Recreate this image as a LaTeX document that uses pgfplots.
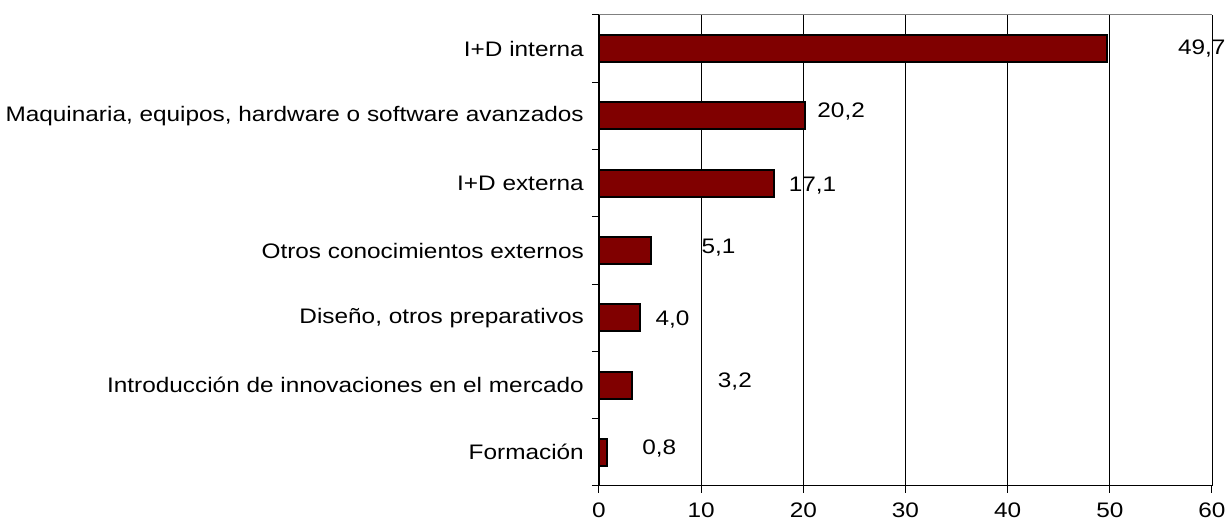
\documentclass[border=0pt]{standalone}
\usepackage{pgfplots}
\pgfplotsset{compat=1.18}
\usepackage{fontspec}
\setmainfont{Liberation Sans}[FakeStretch=1.16]
\definecolor{barred}{RGB}{128,0,0}
\begin{document}
\fontsize{21}{25}\selectfont
\begin{tikzpicture}
\begin{axis}[
  name=ax,
  scale only axis, width=613pt, height=471pt,
  xmin=0, xmax=60, ymin=-0.5, ymax=6.5,
  axis x line*=bottom, axis y line*=left,
  axis line style={-, black, line width=1pt},
  xtick={0,10,...,60},
  ytick={0,...,6},
  yticklabels={Formación, Introducción de innovaciones en el mercado, {Diseño, otros preparativos}, Otros conocimientos externos, I+D externa, {Maquinaria, equipos, hardware o software avanzados}, I+D interna},
  minor ytick={-0.5,0.5,1.5,2.5,3.5,4.5,5.5,6.5},
  major y tick style={draw=none},
  minor y tick style={black, line width=1pt},
  major x tick style={black, line width=1pt},
  tick align=outside,
  major tick length=7pt, minor tick length=7pt,
  xmajorgrids, major grid style={black, line width=0.8pt},
  /pgf/number format/assume math mode=true,
  tick label style={font=\fontsize{21}{25}\selectfont},
  xticklabel style={yshift=-3pt},
  yticklabel style={xshift=-1pt},
  clip=false,
]
\addplot[xbar, bar width=27pt, fill=barred, draw=black, line width=2pt] coordinates {
 (0.8,0) (3.2,1) (4.0,2) (5.1,3) (17.1,4) (20.2,5) (49.7,6)
};
\addplot[only marks, mark=none, nodes near coords, point meta=explicit symbolic,
  nodes near coords style={anchor=center, font=\fontsize{21}{25}\selectfont, text=black}]
  table[meta=l] {
x y l
5.9 0.05 0,8
13.3 1.05 3,2
7.2 1.97 4,0
11.7 3.04 5,1
20.9 3.97 17,1
23.7 5.06 20,2
59.0 6.0 49,7
};
\draw[gray, line width=1pt] (rel axis cs:0,1) -- (rel axis cs:1,1);
\end{axis}
\pgfresetboundingbox
\path ([shift={(-599pt,-36pt)}]ax.south west) rectangle ++(1227pt,522pt);
\end{tikzpicture}
\end{document}
